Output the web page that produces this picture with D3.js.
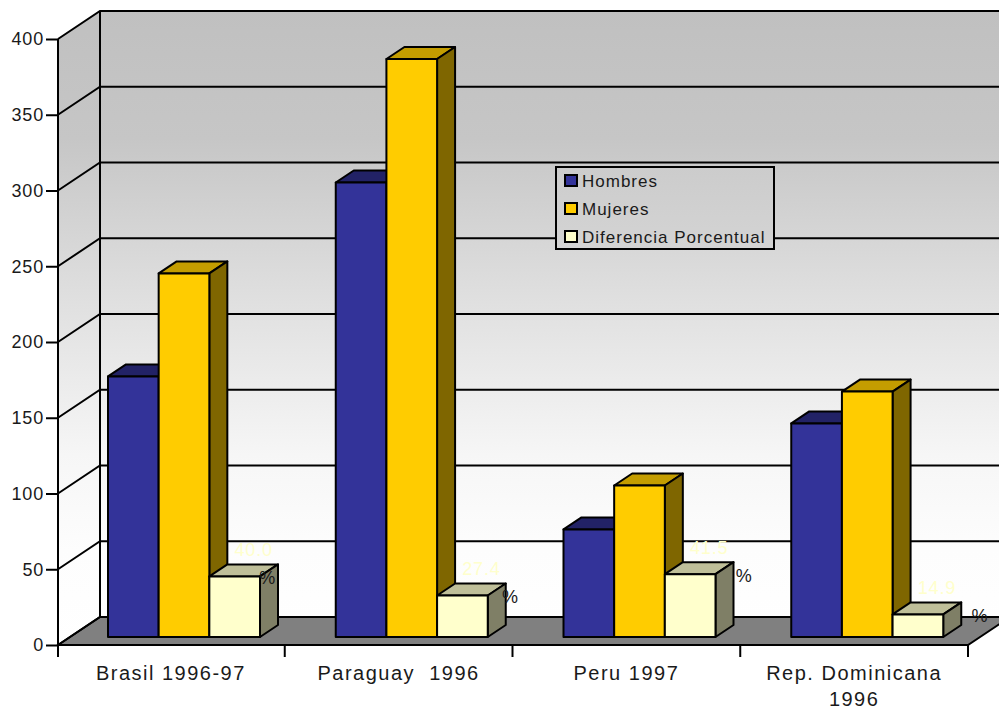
<!DOCTYPE html>
<html>
<head>
<meta charset="utf-8">
<style>
  html, body { margin: 0; padding: 0; background: #fff; }
  svg { display: block; }
  text { font-family: "Liberation Sans", Arial, sans-serif; fill: #1a1a1a; }
</style>
<script src="https://cdn.jsdelivr.net/npm/d3@7"></script>
</head>
<body>
<svg width="999" height="710"></svg>
<script>
const categories = ['Brasil 1996-97', 'Paraguay  1996', 'Peru 1997', 'Rep. Dominicana 1996'];
const hombres = [172, 300, 71, 141];
const mujeres = [240, 381.5, 100, 162];
const diferencia = [40.0, 27.4, 41.5, 14.9];
const seriesNames = ['Hombres', 'Mujeres', 'Diferencia Porcentual'];
const yTicks = [0, 50, 100, 150, 200, 250, 300, 350, 400];

const seriesValues = [hombres, mujeres, diferencia];
// face, top, side
const seriesColors = [
  ['#333399', '#222266', '#1a1a4d'],
  ['#ffcc00', '#c49d00', '#7f6600'],
  ['#ffffcc', '#bfbf99', '#7f7f66']
];
// the % sign lands in a different spot on each bar, as in the original
const pctShift = [33, 48, 54, 62];

const depthX = 42, depthY = 28;
const barDepthX = 18, barDepthY = 12;
const floorShiftY = 8;

const svg = d3.select('svg');

const x = d3.scaleBand().domain(categories).range([57, 968]);
const y = d3.scaleLinear().domain([0, 400]).range([645, 39]);
const barX = d3.scaleBand().domain(d3.range(3)).range([51, 203]);

const poly = pts => pts.map(p => p.join(',')).join(' ');

const defs = svg.append('defs');
const grad = defs.append('linearGradient')
  .attr('id', 'wall')
  .attr('gradientUnits', 'userSpaceOnUse')
  .attr('x1', 0).attr('x2', 0)
  .attr('y1', y(400) - depthY).attr('y2', y(0));
[[0, '#c0c0c0'], [0.2, '#c6c6c6'], [0.45, '#dfdfdf'], [0.7, '#f6f6f6'], [0.85, '#fdfdfd'], [1, '#ffffff']]
  .forEach(s => grad.append('stop').attr('offset', s[0]).attr('stop-color', s[1]));

const wallRight = 1005;
const y0 = y(0), yTop = y(400), xL = x.range()[0] + 1, xR = x.range()[1];

// back and side walls
svg.append('rect')
  .attr('x', xL + depthX).attr('y', yTop - depthY)
  .attr('width', wallRight - xL - depthX).attr('height', y0 - yTop)
  .attr('fill', 'url(#wall)');
svg.append('polygon')
  .attr('points', poly([[xL, yTop], [xL + depthX, yTop - depthY], [xL + depthX, y0 - depthY], [xL, y0]]))
  .attr('fill', 'url(#wall)');

// floor
svg.append('polygon')
  .attr('points', poly([[xL, y0], [xL + depthX, y0 - depthY], [xR + depthX, y0 - depthY], [xR, y0]]))
  .attr('fill', '#808080')
  .attr('stroke', '#000').attr('stroke-width', 2);

// gridlines
const grid = svg.append('g').attr('stroke', '#000').attr('stroke-width', 2).attr('fill', 'none');
grid.selectAll('path')
  .data(yTicks)
  .enter()
  .append('path')
  .attr('d', d => `M${xL},${y(d)}L${xL + depthX},${y(d) - depthY}L${wallRight},${y(d) - depthY}`);
grid.append('line')
  .attr('x1', xL).attr('x2', xL).attr('y1', yTop).attr('y2', y0);
grid.append('line')
  .attr('x1', xL + depthX).attr('x2', xL + depthX).attr('y1', yTop - depthY).attr('y2', y0 - depthY);

// y axis
const yAxis = svg.append('g')
  .attr('transform', `translate(${xL},0)`)
  .call(d3.axisLeft(y).tickValues(yTicks).tickSize(12).tickPadding(2));
yAxis.select('.domain').remove();
yAxis.selectAll('line').attr('stroke', '#000').attr('stroke-width', 2);
yAxis.selectAll('text')
  .style('font-size', '18px').style('letter-spacing', '0.8px')
  .style('font-family', '"Liberation Sans", Arial, sans-serif')
  .attr('fill', '#1a1a1a');

// x ticks sit on the category boundaries
svg.append('g')
  .selectAll('line')
  .data(categories.concat(null))
  .enter()
  .append('line')
  .attr('x1', d => d ? Math.max(x(d), xL) : xR)
  .attr('x2', d => d ? Math.max(x(d), xL) : xR)
  .attr('y1', y0)
  .attr('y2', y0 + 12)
  .attr('stroke', '#000').attr('stroke-width', 2);

// bars
const barW = barX.bandwidth();
const bars = svg.append('g').attr('stroke', '#000').attr('stroke-width', 2).attr('stroke-linejoin', 'round');
categories.forEach((cat, c) => {
  seriesValues.forEach((values, s) => {
    const bx = x(cat) + barX(s);
    const base = y(0) - floorShiftY;
    const top = y(values[c]) - floorShiftY;
    const colors = seriesColors[s];
    const g = bars.append('g');
    g.append('polygon')
      .attr('points', poly([[bx, top], [bx + barDepthX, top - barDepthY], [bx + barW + barDepthX, top - barDepthY], [bx + barW, top]]))
      .attr('fill', colors[1]);
    g.append('polygon')
      .attr('points', poly([[bx + barW, top], [bx + barW + barDepthX, top - barDepthY], [bx + barW + barDepthX, base - barDepthY], [bx + barW, base]]))
      .attr('fill', colors[2]);
    g.append('rect')
      .attr('x', bx).attr('y', top)
      .attr('width', barW).attr('height', base - top)
      .attr('fill', colors[0]);
  });
});

// data labels over the third bar of each group
const labels = svg.append('g').style('font-size', '18px').style('letter-spacing', '0.8px');
categories.forEach((cat, c) => {
  const center = x(cat) + barX(2) + barW / 2;
  const top = y(diferencia[c]) - floorShiftY;
  labels.append('text')
    .attr('x', center + 19)
    .attr('y', top - 20)
    .attr('text-anchor', 'middle')
    .style('fill', '#ffffcc')
    .text(diferencia[c].toFixed(1));
  labels.append('text')
    .attr('x', center + pctShift[c])
    .attr('y', top + 8)
    .attr('text-anchor', 'middle')
    .text('%');
});

// category labels, wrapped on the last year
const catLabels = svg.append('g')
  .attr('text-anchor', 'middle')
  .style('font-size', '20px').style('letter-spacing', '1.5px');
categories.forEach(cat => {
  const m = cat.match(/^(Rep\. Dominicana) (1996)$/);
  const lines = m ? [m[1], m[2]] : [cat];
  lines.forEach((line, i) => {
    catLabels.append('text')
      .attr('x', x(cat) + x.bandwidth() / 2)
      .attr('y', 680 + i * 25.5)
      .style('white-space', 'pre')
      .text(line);
  });
});

// legend
const legendGrad = defs.append('linearGradient')
  .attr('id', 'legendFill').attr('x1', 0).attr('x2', 0).attr('y1', 0).attr('y2', 1);
legendGrad.append('stop').attr('offset', 0).attr('stop-color', '#cccccc');
legendGrad.append('stop').attr('offset', 1).attr('stop-color', '#d4d4d4');

const legend = svg.append('g').attr('transform', 'translate(556,167)');
legend.append('rect')
  .attr('width', 218).attr('height', 82)
  .attr('fill', 'url(#legendFill)')
  .attr('stroke', '#000').attr('stroke-width', 2);
seriesNames.forEach((name, i) => {
  legend.append('rect')
    .attr('x', 9).attr('y', 8 + i * 28)
    .attr('width', 12).attr('height', 11)
    .attr('fill', seriesColors[i][0])
    .attr('stroke', '#000').attr('stroke-width', 2);
  legend.append('text')
    .attr('x', 26).attr('y', 20 + i * 28)
    .style('font-size', '17px').style('letter-spacing', '1px')
    .text(name);
});
</script>
</body>
</html>
